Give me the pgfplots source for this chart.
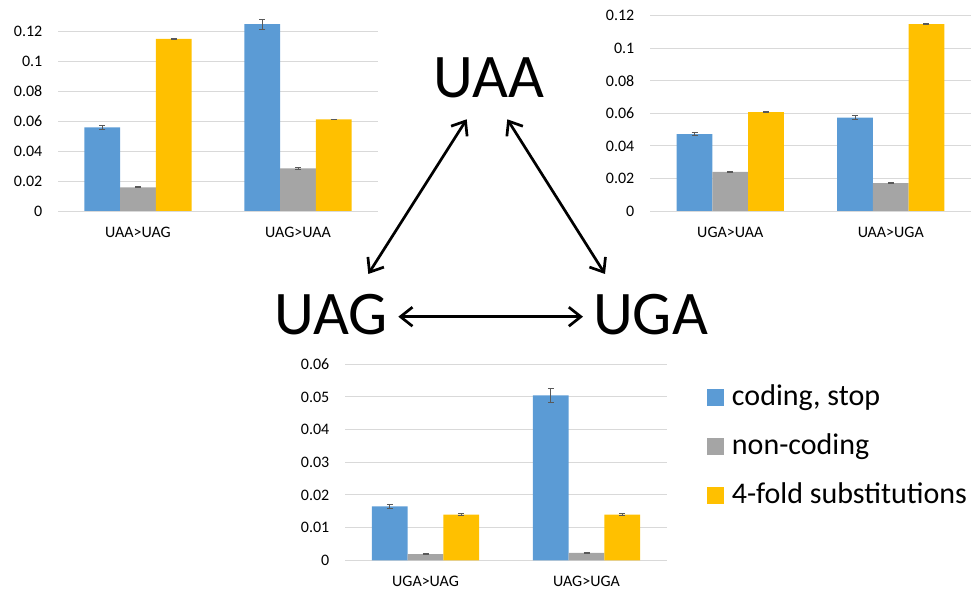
\documentclass[border=0pt]{standalone}
\usepackage{fontspec}
\setmainfont{Carlito}
\usepackage{pgfplots}
\usepackage{pgfplotstable}
\pgfplotsset{compat=1.18}
\usetikzlibrary{arrows.meta}
\definecolor{cblue}{HTML}{5B9BD5}
\definecolor{cgray}{HTML}{A5A5A5}
\definecolor{cyellow}{HTML}{FFC000}
\definecolor{cgrid}{HTML}{D9D9D9}
\definecolor{cerr}{HTML}{595959}

% columns: x, coding (b), non-coding (g), 4-fold (y) with errors
\pgfplotstableread{
x b be g ge y ye
0 0.0558 0.0013 0.0158 0.0003 0.1147 0.0002
1 0.1245 0.0033 0.0284 0.0006 0.0610 0.0002
}\dataA
\pgfplotstableread{
x b be g ge y ye
0 0.0473 0.0011 0.0241 0.0004 0.0608 0.0002
1 0.0574 0.0013 0.0172 0.0003 0.1148 0.0002
}\dataB
\pgfplotstableread{
x b be g ge y ye
0 0.0165 0.0007 0.0019 0.0001 0.0140 0.0002
1 0.0505 0.0021 0.0023 0.0001 0.0140 0.0002
}\dataC

\pgfplotsset{
  stopchart/.style={
    scale only axis,
    anchor=south west,
    ybar,
    bar width=35.7pt,
    xmin=-0.5, xmax=1.5,
    ymin=0,
    xtick={0,1},
    scaled y ticks=false,
    axis line style={draw=none},
    major tick length=0pt,
    ymajorgrids,
    grid style={cgrid, line width=0.9pt},
    tick label style={font=\fontsize{16}{19}\selectfont},
    yticklabel style={anchor=east, inner sep=0pt, xshift=-15.5pt},
    xticklabel style={anchor=base, inner sep=0pt, yshift=-26.7pt},
    clip=false,
  },
  errstyle/.style={
    error bars/.cd, y dir=both, y explicit,
    error bar style={draw=cerr, line width=0.8pt, solid},
    error mark options={draw=cerr, rotate=90, mark size=3pt, line width=0.8pt, solid},
    /pgfplots/.cd,
  },
}

\begin{document}
\begin{tikzpicture}[x=1pt,y=1pt]
\useasboundingbox (0,0) rectangle (975,589);
\coordinate (PA) at (58,378);
\coordinate (PB) at (650,378);
\coordinate (PC) at (345,28.7);

% ---- top-left chart ----
\begin{axis}[stopchart, at={(PA)}, width=320pt, height=195pt, ymax=0.13,
  ytick={0,0.02,0.04,0.06,0.08,0.1,0.12},
  yticklabels={0,0.02,0.04,0.06,0.08,0.1,0.12},
  xticklabels={UAA>UAG, UAG>UAA}]
\addplot[fill=cblue, draw=none, bar shift=-35.7pt, errstyle] table[x=x, y=b, y error=be] {\dataA};
\addplot[fill=cgray, draw=none, bar shift=0pt, errstyle] table[x=x, y=g, y error=ge] {\dataA};
\addplot[fill=cyellow, draw=none, bar shift=35.7pt, errstyle] table[x=x, y=y, y error=ye] {\dataA};
\end{axis}

% ---- top-right chart ----
\begin{axis}[stopchart, at={(PB)}, width=321pt, height=203.4pt, ymax=0.125,
  ytick={0,0.02,0.04,0.06,0.08,0.1,0.12},
  yticklabels={0,0.02,0.04,0.06,0.08,0.1,0.12},
  xticklabels={UGA>UAA, UAA>UGA}]
\addplot[fill=cblue, draw=none, bar shift=-35.7pt, errstyle] table[x=x, y=b, y error=be] {\dataB};
\addplot[fill=cgray, draw=none, bar shift=0pt, errstyle] table[x=x, y=g, y error=ge] {\dataB};
\addplot[fill=cyellow, draw=none, bar shift=35.7pt, errstyle] table[x=x, y=y, y error=ye] {\dataB};
\end{axis}

% ---- bottom chart with legend ----
\begin{axis}[stopchart, at={(PC)}, width=322pt, height=202.6pt, ymax=0.062,
  ytick={0,0.01,0.02,0.03,0.04,0.05,0.06},
  yticklabels={0,0.01,0.02,0.03,0.04,0.05,0.06},
  xticklabels={UGA>UAG, UAG>UGA},
  xticklabel style={yshift=0.6pt},
  legend image code/.code={\fill[#1] (0pt,0pt) rectangle (17pt,17pt); \path (25pt,0pt);},
  legend style={at={(1.1242,0.872)}, anchor=north west, draw=none, fill=none,
    inner sep=0pt, outer sep=0pt, row sep=19pt,
    font=\fontsize{30}{36}\selectfont,
    cells={anchor=base west},
    nodes={inner sep=0pt, text height=22pt, text depth=8pt}},
  ]
\addplot[fill=cblue, draw=none, bar shift=-35.7pt, forget plot, errstyle] table[x=x, y=b, y error=be] {\dataC};
\addplot[fill=cgray, draw=none, bar shift=0pt, forget plot, errstyle] table[x=x, y=g, y error=ge] {\dataC};
\addplot[fill=cyellow, draw=none, bar shift=35.7pt, forget plot, errstyle] table[x=x, y=y, y error=ye] {\dataC};
\addlegendimage{fill=cblue, draw=none}
\addlegendentry{coding, stop}
\addlegendimage{fill=cgray, draw=none}
\addlegendentry{non-coding}
\addlegendimage{fill=cyellow, draw=none}
\addlegendentry{4-fold substitutions}
\end{axis}

% ---- triangle of stop codons ----
\node[anchor=base, inner sep=0pt, font=\fontsize{62}{70}\selectfont] at (488.7,491.7) {UAA};
\node[anchor=base, inner sep=0pt, font=\fontsize{62}{70}\selectfont] at (331,254.7) {UAG};
\node[anchor=base, inner sep=0pt, font=\fontsize{62}{70}\selectfont] at (650.5,254.7) {UGA};
\tikzset{dbl/.style={line width=2.7pt, {Straight Barb[length=12pt,width=19pt]}-{Straight Barb[length=12pt,width=19pt]}}}
\draw[dbl] (466.7,469.7) -- (368.3,315);
\draw[dbl] (507.3,469.7) -- (605,315);
\draw[dbl] (398.3,272.3) -- (583,272.3);
\end{tikzpicture}
\end{document}
